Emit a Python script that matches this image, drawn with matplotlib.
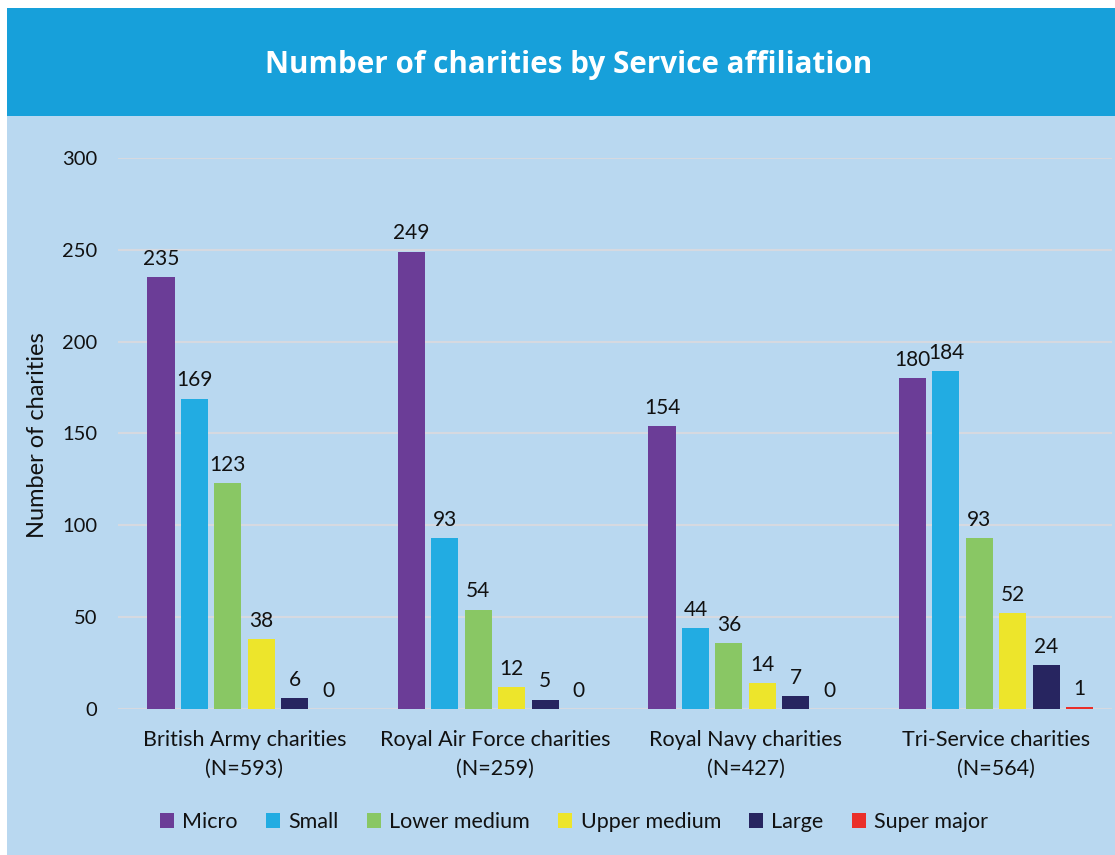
import numpy as np
import matplotlib
matplotlib.use("Agg")
import matplotlib.pyplot as plt
from matplotlib.patches import Rectangle

# data
groups = ["British Army charities\n(N=593)", "Royal Air Force charities\n(N=259)",
          "Royal Navy charities\n(N=427)", "Tri-Service charities\n(N=564)"]
sizes = ["Micro", "Small", "Lower medium", "Upper medium", "Large", "Super major"]
micro = [235, 249, 154, 180]
small = [169, 93, 44, 184]
lower_medium = [123, 54, 36, 93]
upper_medium = [38, 12, 14, 52]
large = [6, 5, 7, 24]
super_major = [0, 0, 0, 1]
colors = ["#6b3d97", "#22ace2", "#89c764", "#ede52b", "#272560", "#ea2f2a"]

TITLEBLUE = "#17a0da"
BGBLUE = "#b9d8f0"
GRIDCOL = "#d6d9e0"
TXT = "#111111"

plt.rcParams["font.family"] = ["Lato", "DejaVu Sans"]

W, H = 1115, 855
fig = plt.figure(figsize=(W / 100, H / 100), dpi=100, facecolor="white")

# backgrounds: light blue panel + title bar
fig.patches.append(Rectangle((7 / W, 0), 1, (H - 116) / H, transform=fig.transFigure,
                             facecolor=BGBLUE, edgecolor="none", zorder=-2))
fig.patches.append(Rectangle((7 / W, (H - 116) / H), 1, 108 / H, transform=fig.transFigure,
                             facecolor=TITLEBLUE, edgecolor="none", zorder=-2))
fig.text(569 / W, (H - 65) / H, "Number of charities by Service affiliation",
         ha="center", va="center", color="white", fontsize=21.3, fontweight="bold",
         family=["Open Sans", "DejaVu Sans"])

ax_l, ax_r = 118, 1112
ax = fig.add_axes([ax_l / W, (H - 709) / H, (ax_r - ax_l) / W, (709 - 158) / H])
ax.set_facecolor("none")

series = [micro, small, lower_medium, upper_medium, large, super_major]
x = np.arange(len(groups))
pitch = 0.1333
width = 0.108
for i, (vals, col) in enumerate(zip(series, colors)):
    pos = x + (i - 2.5) * pitch
    bars = ax.bar(pos, vals, width=width, color=col, label=sizes[i], zorder=3)
    for b, v in zip(bars, vals):
        ax.annotate(str(v), (b.get_x() + b.get_width() / 2, v), xytext=(0, 6),
                    textcoords="offset points", ha="center", va="bottom",
                    fontsize=15, color=TXT)

# first group centred at 244.5px, groups 250.5px apart
px_unit = 250.5
ax.set_xlim(-(244.5 - ax_l) / px_unit, (ax_r - 244.5) / px_unit)
ax.set_ylim(0, 300)
ax.set_yticks(np.arange(0, 301, 50))
ax.set_xticks(x)
ax.set_xticklabels(groups, fontsize=15.5, color=TXT, linespacing=1.55)
ax.tick_params(axis="y", length=0, pad=15, labelsize=14.5, labelcolor=TXT)
ax.tick_params(axis="x", length=0, pad=15)
ax.grid(axis="y", color=GRIDCOL, linewidth=1.5, zorder=0)
for s in ax.spines.values():
    s.set_visible(False)

fig.text(38 / W, (H - 435) / H, "Number of charities", rotation=90,
         ha="center", va="center", fontsize=17, color=TXT)

fig.legend(loc="center", bbox_to_anchor=(574 / W, (H - 822) / H), ncol=6,
           frameon=False, fontsize=15.5, handlelength=0.65, handleheight=0.65,
           handletextpad=0.4, columnspacing=1.3, labelcolor=TXT)

fig.savefig("out.png", dpi=100, facecolor="white")
